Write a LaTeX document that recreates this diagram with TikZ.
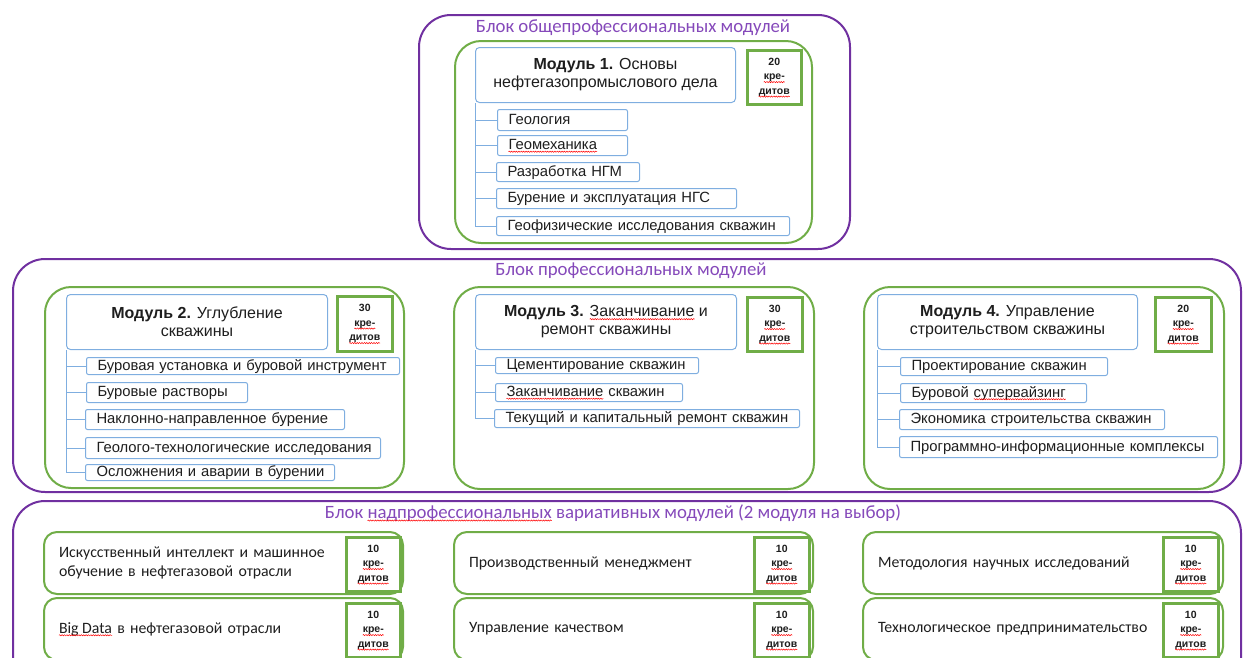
\documentclass[tikz,border=0pt]{standalone}
\usepackage{fontspec}
\setmainfont{Liberation Sans}
\newfontfamily\calfont{Carlito}
\usetikzlibrary{decorations.pathmorphing}
\definecolor{purp}{HTML}{7030A0}
\definecolor{purptxt}{HTML}{8549BA}
\definecolor{grn}{HTML}{70AD47}
\definecolor{blu}{HTML}{7FAEE0}
\definecolor{txt}{HTML}{1E1E1E}
\newcommand\sq[1]{\tikz[baseline=(w.base)]{\node[inner sep=0pt, outer sep=0pt, draw=none, fill=none, text width={}, text height={}, text depth={}, minimum width=0pt, minimum height=0pt, anchor=base, rounded corners=0pt] (w) {#1};
  \draw[overlay, red, line width=0.5pt, rounded corners=0pt, decorate, decoration={snake, amplitude=0.6pt, segment length=2.4pt}] ([yshift=-2.2pt]w.base west) -- ([yshift=-2.2pt]w.base east);}}
\newcommand\bx[7]{%
  \pgfmathsetmacro\bxw{#5-#3}\pgfmathsetmacro\bxh{#6-#4}%
  \node[#1, anchor=north west, minimum width=\bxw pt, minimum height=\bxh pt] (#2) at (#3,#4) {#7};}
\newcommand\lbx[8]{%
  \pgfmathsetmacro\bxw{#5-#3-2*#7}\pgfmathsetmacro\bxh{#6-#4}%
  \node[#1, anchor=north west, inner xsep=#7pt, text width=\bxw pt, minimum height=\bxh pt] (#2) at (#3,#4) {#8};}
\newcommand\ibx[6]{\lbx{item}{#1}{#2}{#3}{#4}{#5}{11}{\mbox{#6}}}
\newcommand\kr[1]{#1\\\sq{кре-}\\\sq{дитов}}
\begin{document}
\begin{tikzpicture}[x=1pt,y=-1pt,
  block/.style={draw=purp, line width=2pt, rounded corners=32pt, inner sep=0pt},
  modbox/.style={draw=grn, line width=2pt, rounded corners=26pt, inner sep=0pt},
  hdr/.style={draw=blu, line width=1pt, rounded corners=4pt, fill=white, align=center, inner sep=0pt, text=txt, font=\fontsize{16}{18}\selectfont},
  item/.style={draw=blu, line width=1pt, rounded corners=2pt, fill=white, align=left, inner ysep=0pt, text=txt, text height=11pt, text depth=3pt, font=\fontsize{14.8}{16}\selectfont},
  cred/.style={draw=grn, line width=2.5pt, fill=white, align=center, inner sep=0pt, text=txt, font=\bfseries\fontsize{10.5}{14.5}\selectfont},
  opt/.style={draw=grn, line width=2pt, rounded corners=13pt, align=left, inner ysep=0pt, text=txt, font=\calfont\fontsize{15.8}{19}\selectfont},
  ttl/.style={text=purptxt, inner sep=0pt, font=\calfont\fontsize{18.8}{20}\selectfont},
  conn/.style={draw=blu, line width=1pt}
]
\useasboundingbox (0,0) rectangle (1243,657);
\clip (0,0) rectangle (1243,657);

% ---------- top block
\bx{block}{B1}{418}{14}{849}{248}{}
\node[ttl] (T1) at (633,28) {Блок общепрофессиональных модулей};
\bx{modbox}{G1}{454}{40}{811}{242}{}
\bx{hdr}{H1}{475}{47}{735}{102}{\textbf{Модуль 1.} Основы\\нефтегазопромыслового дела}
\bx{cred}{C1}{746}{49}{800}{103}{\kr{20}}
\ibx{a1}{497}{109}{627}{130}{Геология}
\ibx{a2}{497}{135}{627}{155}{\sq{Геомеханика}}
\ibx{a3}{496}{162}{639}{181}{Разработка НГМ}
\ibx{a4}{496}{188}{736}{208}{Бурение и эксплуатация НГС}
\ibx{a5}{496}{216}{789}{235}{Геофизические исследования скважин}
\foreach \i in {1,...,5} \draw[conn] (H1.south west) |- (a\i.west);

% ---------- professional block
\bx{block}{B2}{12}{258}{1240}{491}{}
\node[ttl] (T2) at (631,271) {Блок профессиональных модулей};

\bx{modbox}{G2}{44}{286}{403}{487}{}
\bx{hdr}{H2}{66}{294}{327}{349}{\textbf{Модуль 2.} Углубление\\скважины}
\bx{cred}{C2}{336}{295}{391}{350}{\kr{30}}
\ibx{b1}{86}{357}{399}{374}{Буровая установка и буровой инструмент}
\ibx{b2}{86}{382}{247}{402}{Буровые растворы}
\ibx{b3}{85}{409}{344}{429}{Наклонно-направленное бурение}
\ibx{b4}{85}{437}{380}{458}{Геолого-технологические исследования}
\ibx{b5}{85}{464}{334}{480}{Осложнения и аварии в бурении}
\foreach \i in {1,...,5} \draw[conn] (H2.south west) |- (b\i.west);

\bx{modbox}{G3}{453}{286}{813}{488}{}
\bx{hdr}{H3}{475}{294}{736}{349}{\textbf{Модуль 3.} \sq{Заканчивание} и\\ремонт скважины}
\bx{cred}{C3}{746}{296}{801}{350}{\kr{30}}
\ibx{c1}{495}{357}{698}{373}{Цементирование скважин}
\ibx{c2}{495}{383}{682}{401}{\sq{Заканчивание} скважин}
\ibx{c3}{494}{409}{799}{427}{Текущий и капитальный ремонт скважин}
\foreach \i in {1,...,3} \draw[conn] (H3.south west) |- (c\i.west);

\bx{modbox}{G4}{863}{286}{1223}{488}{}
\bx{hdr}{H4}{877}{294}{1137}{349}{\textbf{Модуль 4.} Управление\\строительством скважины}
\bx{cred}{C4}{1154}{296}{1210}{350}{\kr{20}}
\ibx{d1}{900}{357}{1107}{375}{Проектирование скважин}
\ibx{d2}{900}{383}{1086}{402}{Буровой \sq{супервайзинг}}
\ibx{d3}{899}{409}{1164}{429}{Экономика строительства скважин}
\ibx{d4}{899}{436}{1217}{457}{Программно-информационные комплексы}
\foreach \i in {1,...,4} \draw[conn] (H4.south west) |- (d\i.west);

% ---------- optional block
\bx{block}{B3}{12}{500}{1240}{720}{}
\node[ttl] (T3) at (613,513) {Блок \sq{надпрофессиональных} вариативных модулей (2 модуля на выбор)};
\lbx{opt}{o1}{43}{531}{402}{593}{15}{Искусственный интеллект и машинное\\обучение в нефтегазовой отрасли}
\bx{cred}{k1}{345}{536}{399}{590}{\kr{10}}
\lbx{opt}{o2}{43}{597}{402}{659}{15}{\sq{Big Data} в нефтегазовой отрасли}
\bx{cred}{k2}{345}{602}{399}{656}{\kr{10}}
\lbx{opt}{o3}{453}{531}{812}{593}{15}{Производственный менеджмент}
\bx{cred}{k3}{753}{536}{808}{590}{\kr{10}}
\lbx{opt}{o4}{453}{597}{812}{659}{15}{Управление качеством}
\bx{cred}{k4}{753}{602}{808}{656}{\kr{10}}
\lbx{opt}{o5}{862}{531}{1222}{593}{15}{Методология научных исследований}
\bx{cred}{k5}{1162}{536}{1217}{590}{\kr{10}}
\lbx{opt}{o6}{862}{597}{1222}{659}{15}{Технологическое предпринимательство}
\bx{cred}{k6}{1162}{602}{1217}{656}{\kr{10}}
\end{tikzpicture}
\end{document}
